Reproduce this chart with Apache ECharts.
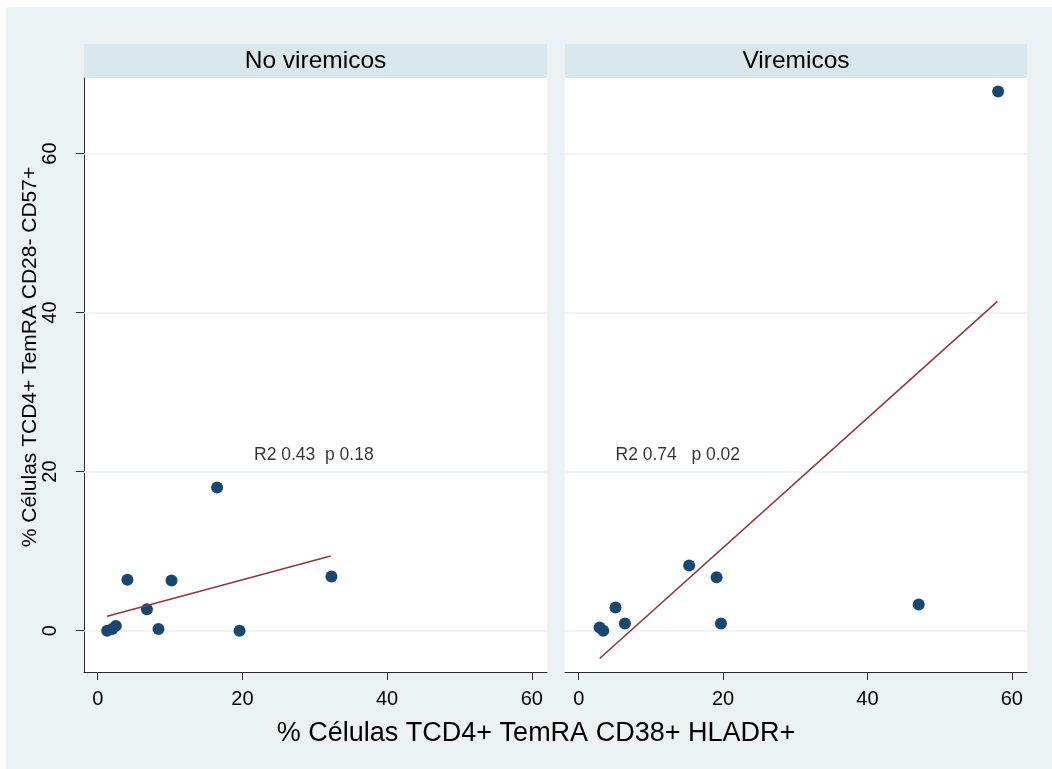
<!DOCTYPE html>
<html>
<head>
<meta charset="utf-8">
<script src="https://cdn.jsdelivr.net/npm/echarts@6/dist/echarts.min.js"></script>
<style>
  html, body { margin: 0; padding: 0; background: #ffffff; }
  #chart { width: 1052px; height: 769px; }
</style>
</head>
<body>
<div id="chart"></div>
<script>
// Panel titles
const panelNames = ['No viremicos', 'Viremicos'];

// Axis titles
const xTitle = '% Células TCD4+ TemRA CD38+ HLADR+';
const yTitle = '% Células TCD4+ TemRA CD28- CD57+';

// Tick values shared by both panels
const xTicks = [0, 20, 40, 60];
const yTicks = [0, 20, 40, 60];

// No viremicos: observations
const noViremX = [1.3, 2.0, 2.5, 4.1, 6.8, 8.4, 10.2, 16.5, 19.6, 32.3];
const noViremY = [0.0, 0.2, 0.6, 6.4, 2.7, 0.2, 6.3, 18.0, 0.0, 6.8];
// No viremicos: linear fit end points
const noViremFitX = [1.3, 32.2];
const noViremFitY = [1.8, 9.4];

// Viremicos: observations
const viremX = [2.9, 3.4, 5.1, 6.4, 15.3, 19.1, 19.7, 47.1, 58.1];
const viremY = [0.4, 0.0, 2.9, 0.9, 8.2, 6.7, 0.9, 3.3, 67.8];
// Viremicos: linear fit end points
const viremFitX = [2.9, 58.0];
const viremFitY = [-3.5, 41.4];

// Fit statistics shown in each panel, with their anchor (x, y)
const statTexts = ['R2 0.43  p 0.18', 'R2 0.74   p 0.02'];
const statPos = [[21.6, 22.1], [5.1, 22.1]];

const FONT = '"Liberation Sans", Arial, Helvetica, sans-serif';
const NAVY = '#1a476f';
const MAROON = '#90353b';
const GRIDC = '#eaf2f3';
const BAND = '#d9e6eb';
const OUTER = '#eaf2f3';
const AXISC = '#2b2b2b';

const pairs = (xs, ys) => xs.map((x, i) => [x, ys[i]]);

const grids = [
  { left: 84, top: 78, width: 463, height: 594 },
  { left: 565, top: 78, width: 462, height: 594 }
];

function makeX(idx) {
  return {
    type: 'value', gridIndex: idx, min: -1.9, max: 62.1,
    axisLine: { show: true, onZero: false, lineStyle: { color: AXISC, width: 1 } },
    axisTick: { show: true, customValues: xTicks, length: 8, lineStyle: { color: AXISC, width: 1 } },
    axisLabel: { show: true, customValues: xTicks, margin: 17, fontSize: 20, color: '#000', fontFamily: FONT },
    splitLine: { show: false }
  };
}
function makeY(idx, visible) {
  return {
    type: 'value', gridIndex: idx, min: -5.2, max: 69.5,
    axisLine: { show: visible, onZero: false, lineStyle: { color: AXISC, width: 1 } },
    axisTick: { show: visible, customValues: yTicks, length: 8, lineStyle: { color: AXISC, width: 1 } },
    axisLabel: { show: visible, customValues: yTicks, rotate: 90, margin: 24, fontSize: 20, color: '#000', fontFamily: FONT },
    splitLine: { show: false }
  };
}

// Horizontal reference lines at the y tick values, kept beneath the marks
function gridLineSeries(idx) {
  return {
    type: 'line', xAxisIndex: idx, yAxisIndex: idx, data: [], z: 1, silent: true,
    markLine: {
      z: 1, silent: true, symbol: ['none', 'none'], animation: false,
      label: { show: false },
      lineStyle: { color: GRIDC, width: 1.6, type: 'solid' },
      emphasis: { disabled: true },
      data: yTicks.map(v => ({ yAxis: v }))
    }
  };
}
function pointSeries(idx, xs, ys) {
  return {
    type: 'scatter', xAxisIndex: idx, yAxisIndex: idx, z: 3,
    symbol: 'circle', symbolSize: 12,
    itemStyle: { color: NAVY, opacity: 1 },
    data: pairs(xs, ys)
  };
}
function fitSeries(idx, xs, ys) {
  return {
    type: 'line', xAxisIndex: idx, yAxisIndex: idx, z: 4,
    showSymbol: false, symbol: 'none',
    lineStyle: { color: MAROON, width: 1.6 },
    data: pairs(xs, ys)
  };
}
function statSeries(idx) {
  return {
    type: 'scatter', xAxisIndex: idx, yAxisIndex: idx, z: 5,
    symbolSize: 0, silent: true,
    label: {
      show: true, position: 'right', distance: 0,
      formatter: () => statTexts[idx],
      fontSize: 17.5, color: '#000', fontFamily: FONT
    },
    data: [statPos[idx]]
  };
}

const bands = grids.map((g, i) => [
  { type: 'rect', z: -5, shape: { x: g.left, y: 44, width: g.width, height: 34 }, style: { fill: BAND } },
  { type: 'text', z: -4, x: g.left + g.width / 2, y: 61,
    style: { text: panelNames[i], fill: '#000', font: '24.5px ' + FONT, textAlign: 'center', textVerticalAlign: 'middle' } }
]).flat();

const option = {
  backgroundColor: '#ffffff',
  animation: false,
  grid: grids.map(g => Object.assign({ show: true, backgroundColor: '#ffffff', borderWidth: 0, containLabel: false }, g)),
  xAxis: [makeX(0), makeX(1)],
  yAxis: [makeY(0, true), makeY(1, false)],
  graphic: [
    { type: 'rect', z: -100, shape: { x: 6, y: 7, width: 1046, height: 762 }, style: { fill: OUTER } },
    ...bands,
    { type: 'text', z: -4, x: 536, y: 734,
      style: { text: xTitle, fill: '#000', font: '27px ' + FONT, textAlign: 'center', textVerticalAlign: 'middle' } },
    { type: 'text', z: -4, x: 30, y: 357, rotation: Math.PI / 2,
      style: { text: yTitle, fill: '#000', font: '21px ' + FONT, textAlign: 'center', textVerticalAlign: 'middle' } }
  ],
  series: [
    gridLineSeries(0), gridLineSeries(1),
    pointSeries(0, noViremX, noViremY), pointSeries(1, viremX, viremY),
    fitSeries(0, noViremFitX, noViremFitY), fitSeries(1, viremFitX, viremFitY),
    statSeries(0), statSeries(1)
  ]
};

const chart = echarts.init(document.getElementById('chart'), null, { renderer: 'canvas' });
chart.setOption(option);
</script>
</body>
</html>
